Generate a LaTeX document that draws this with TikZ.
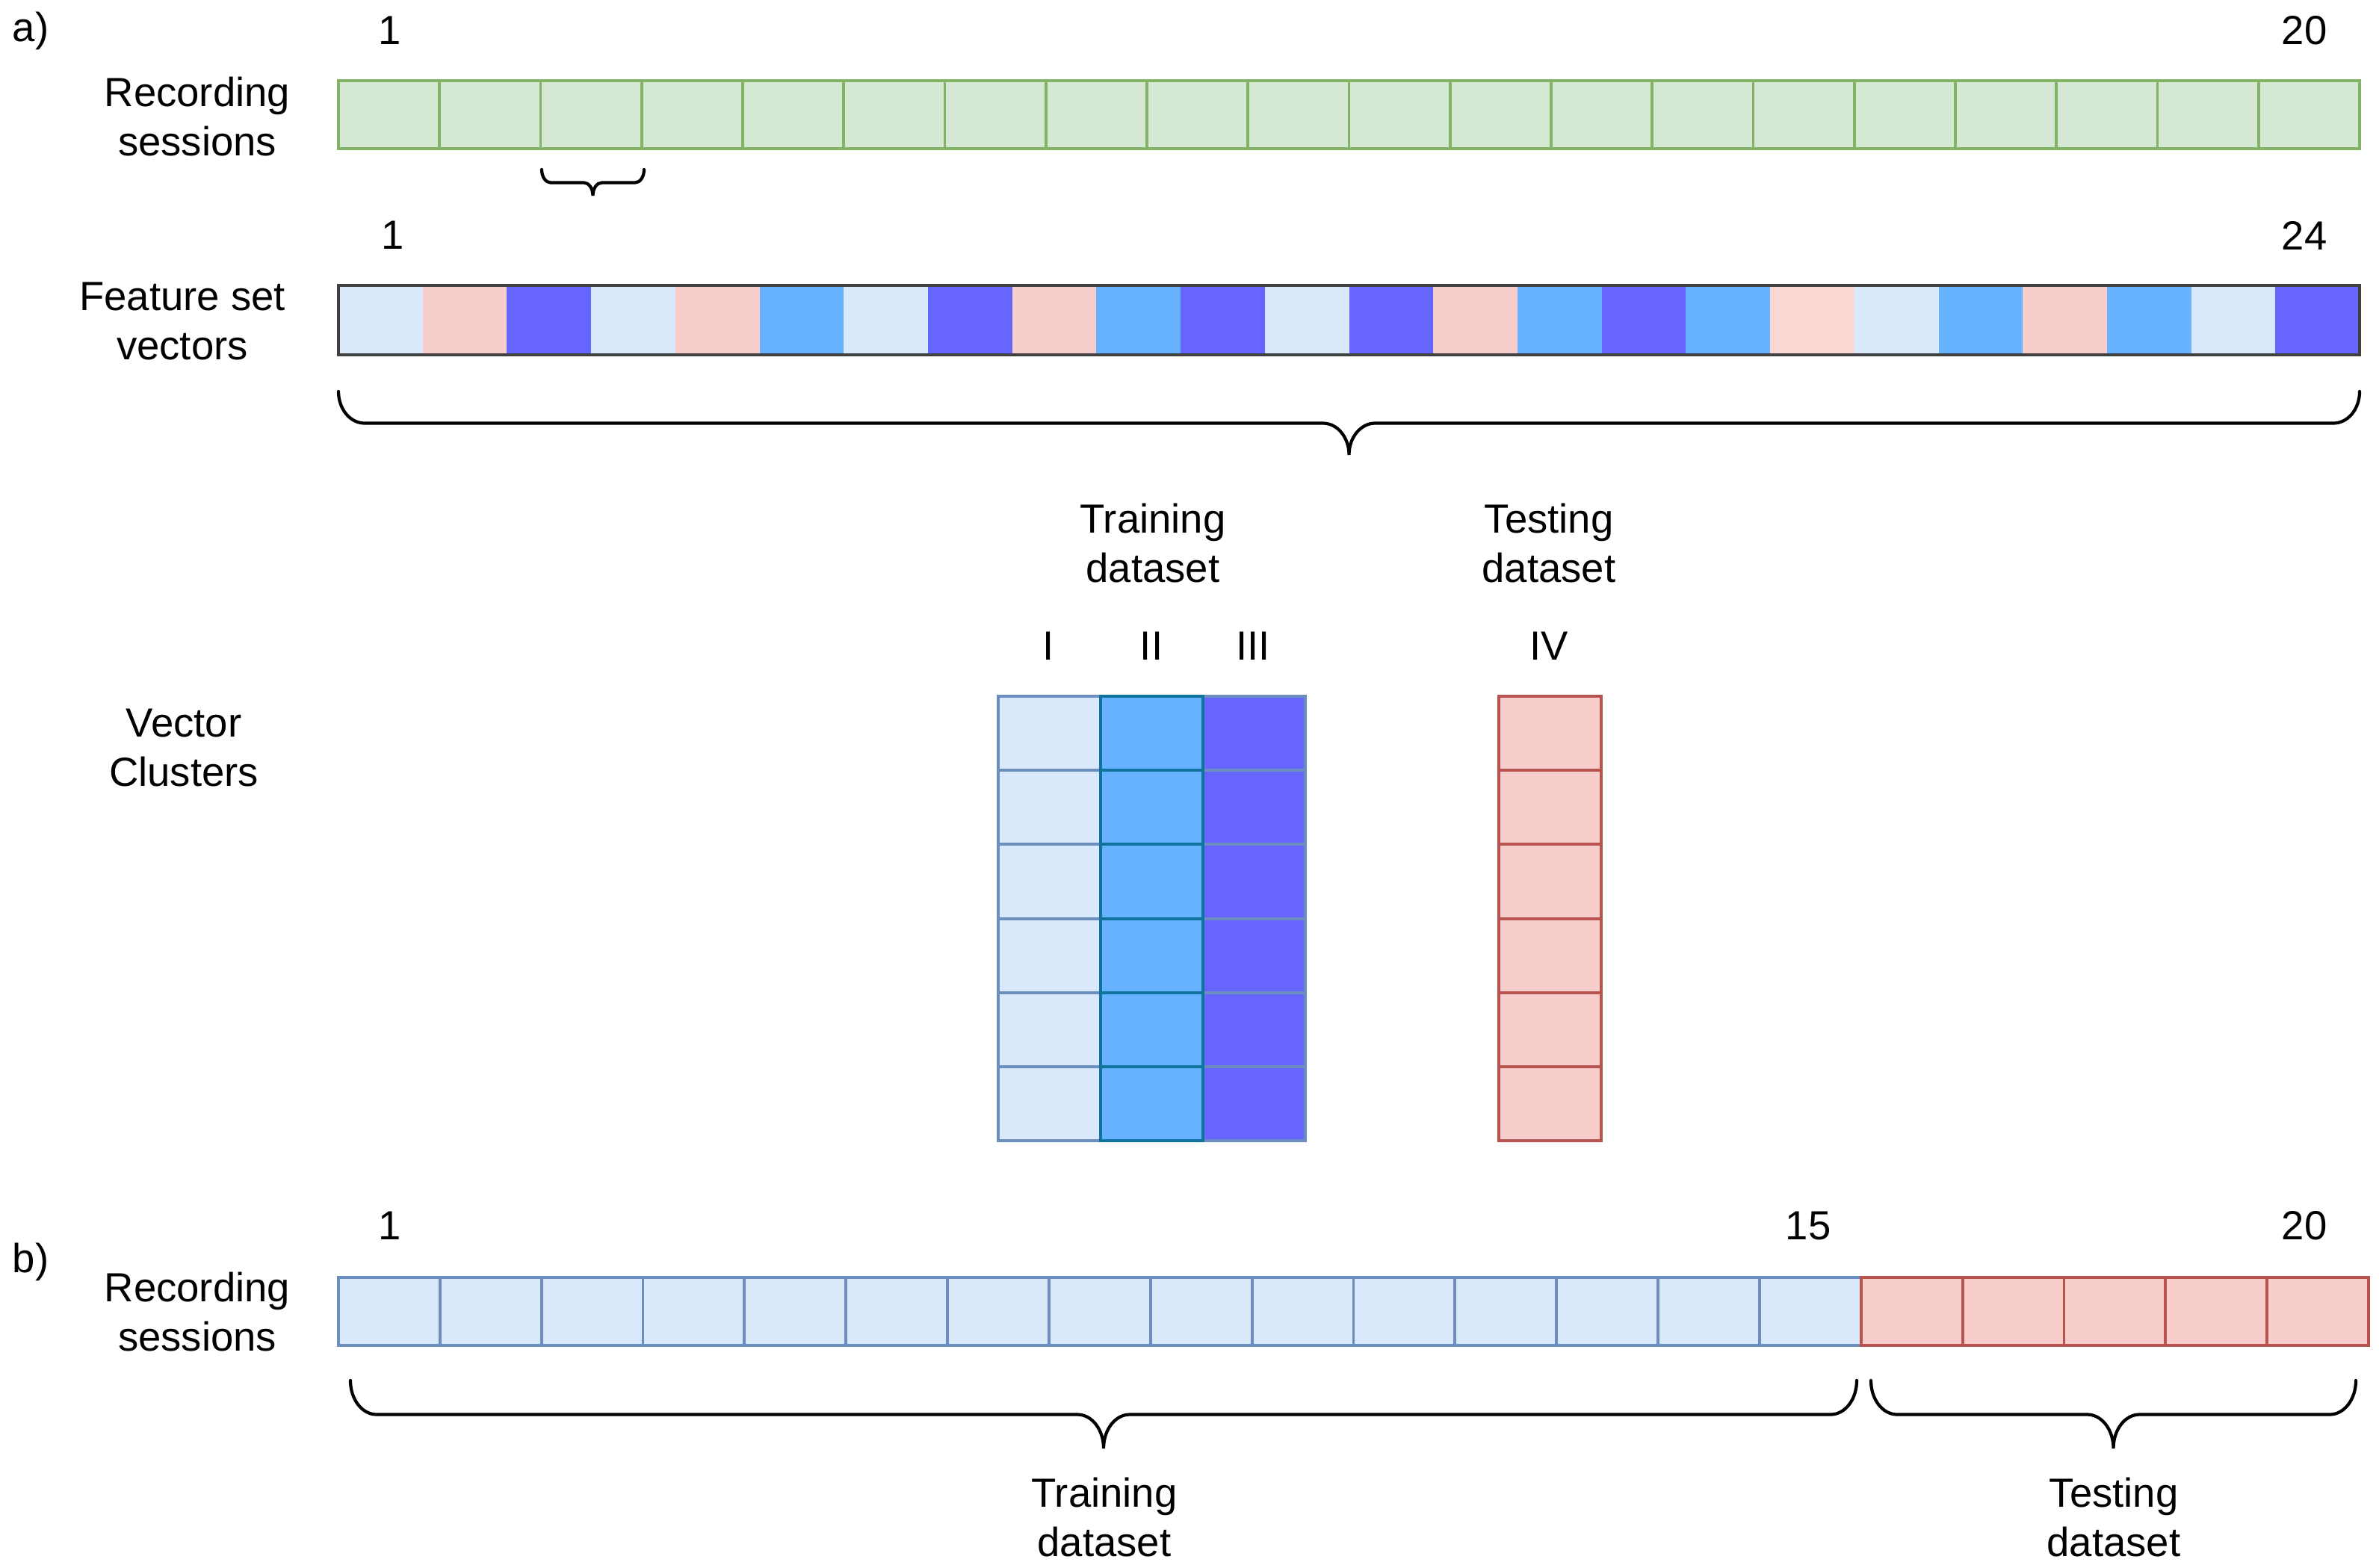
\documentclass[tikz,border=0pt]{standalone}
\usepackage{fontspec}
\setmainfont{Liberation Sans}
\usetikzlibrary{positioning}
\definecolor{lblue}{HTML}{DAE8FC}
\definecolor{lbluedraw}{HTML}{6C8EBF}
\definecolor{mblue}{HTML}{66B2FF}
\definecolor{mbluedraw}{HTML}{10739E}
\definecolor{vblue}{HTML}{6666FF}
\definecolor{lred}{HTML}{F8CECC}
\definecolor{lreddraw}{HTML}{B85450}
\definecolor{lpeach}{HTML}{FAD9D5}
\definecolor{lgreen}{HTML}{D5E8D4}
\definecolor{lgreendraw}{HTML}{82B366}
\tikzset{
  cell/.style={rectangle,draw,line width=1.1pt,inner sep=0pt,outer sep=0pt,anchor=north west},
  txt/.style={font=\fontsize{15.5}{18.6}\selectfont,align=center,inner sep=0pt},
  bracket/.style={line width=1.2pt,line cap=round}
}
% curly bracket: left x, right x, top y, depth, curl
\newcommand{\curly}[5]{%
  \pgfmathsetmacro{\bm}{(#1+#2)/2}
  \draw[bracket] (#1,#3) .. controls (#1,#3-0.28*#4) and (#1+0.45*#5,#3-0.5*#4) .. (#1+#5,#3-0.5*#4)
    -- (\bm-#5,#3-0.5*#4) .. controls (\bm-0.45*#5,#3-0.5*#4) and (\bm,#3-0.72*#4) .. (\bm,#3-#4)
    .. controls (\bm,#3-0.72*#4) and (\bm+0.45*#5,#3-0.5*#4) .. (\bm+#5,#3-0.5*#4)
    -- (#2-#5,#3-0.5*#4) .. controls (#2-0.45*#5,#3-0.5*#4) and (#2,#3-0.28*#4) .. (#2,#3);
}

\begin{document}
\begin{tikzpicture}
    \useasboundingbox (0,0) rectangle (31.84,-20.98);

    % a) recording sessions
    \node[txt] (pa) at (0.41,-0.41) {a)};
    \foreach \i in {1,...,20} {
        \node[cell,fill=lgreen,draw=lgreendraw,minimum width=1.3525cm,minimum height=0.91cm]
            (g\i) at ({4.53+(\i-1)*1.3525},-1.08) {};
    }
    \node[txt] (ga) at (5.22,-0.41) {1};
    \node[txt] (gb) at (30.84,-0.41) {20};
    \node[txt] (rsa) at (2.64,-1.56) {Recording\\sessions};
    \curly{7.25}{8.62}{-2.27}{0.35}{0.12}

    % feature set vectors
    \foreach \c [count=\i] in {lblue,lred,vblue,lblue,lred,mblue,lblue,vblue,lred,mblue,vblue,lblue,
                               vblue,lred,mblue,vblue,mblue,lpeach,lblue,mblue,lred,mblue,lblue,vblue} {
        \node[cell,fill=\c,draw=none,minimum width=1.1271cm,minimum height=0.93cm]
            (fv\i) at ({4.53+(\i-1)*1.1271},-3.82) {};
    }
    \draw[black!75,line width=1pt] (fv1.north west) rectangle (fv24.south east);
    \node[txt] (fa) at (5.26,-3.15) {1};
    \node[txt] (fb) at (30.84,-3.15) {24};
    \node[txt] (fsv) at (2.44,-4.30) {Feature set\\vectors};
    \curly{4.53}{31.58}{-5.24}{0.85}{0.35}

    % vector clusters
    \node[txt] (train) at (15.43,-7.27) {Training\\dataset};
    \node[txt] (test) at (20.73,-7.27) {Testing\\dataset};
    \node[txt] (k1) at (14.03,-8.65) {I};
    \node[txt] (k2) at (15.41,-8.65) {II};
    \node[txt] (k3) at (16.77,-8.65) {III};
    \node[txt] (k4) at (20.73,-8.65) {IV};
    \node[txt] (vc) at (2.46,-10.01) {Vector\\Clusters};
    \foreach \r in {1,...,6} {
        \node[cell,fill=lblue,draw=lbluedraw,minimum width=1.37cm,minimum height=0.992cm]
            (ca\r) at (13.36,{-9.32-(\r-1)*0.992}) {};
        \node[cell,fill=vblue,draw=lbluedraw,minimum width=1.37cm,minimum height=0.992cm]
            (cc\r) at (16.10,{-9.32-(\r-1)*0.992}) {};
        \node[cell,fill=lred,draw=lreddraw,minimum width=1.37cm,minimum height=0.992cm]
            (cd\r) at (20.06,{-9.32-(\r-1)*0.992}) {};
    }
    \foreach \r in {1,...,6} {
        \node[cell,fill=mblue,draw=mbluedraw,minimum width=1.37cm,minimum height=0.992cm]
            (cb\r) at (14.73,{-9.32-(\r-1)*0.992}) {};
    }

    % b) recording sessions
    \node[txt] (pb) at (0.41,-16.89) {b)};
    \foreach \i in {1,...,15} {
        \node[cell,fill=lblue,draw=lbluedraw,minimum width=1.3585cm,minimum height=0.91cm]
            (s\i) at ({4.53+(\i-1)*1.3585},-17.10) {};
    }
    \foreach \i in {16,...,20} {
        \node[cell,fill=lred,draw=lreddraw,minimum width=1.3585cm,minimum height=0.91cm]
            (s\i) at ({4.53+(\i-1)*1.3585},-17.10) {};
    }
    \node[txt] (sa) at (5.22,-16.41) {1};
    \node[txt] (sb) at (24.20,-16.41) {15};
    \node[txt] (sc) at (30.84,-16.41) {20};
    \node[txt] (rsb) at (2.64,-17.56) {Recording\\sessions};
    \curly{4.69}{24.85}{-18.48}{0.91}{0.35}
    \curly{25.04}{31.53}{-18.48}{0.91}{0.35}
    \node[txt] (trainb) at (14.78,-20.31) {Training\\dataset};
    \node[txt] (testb) at (28.29,-20.31) {Testing\\dataset};
\end{tikzpicture}
\end{document}
